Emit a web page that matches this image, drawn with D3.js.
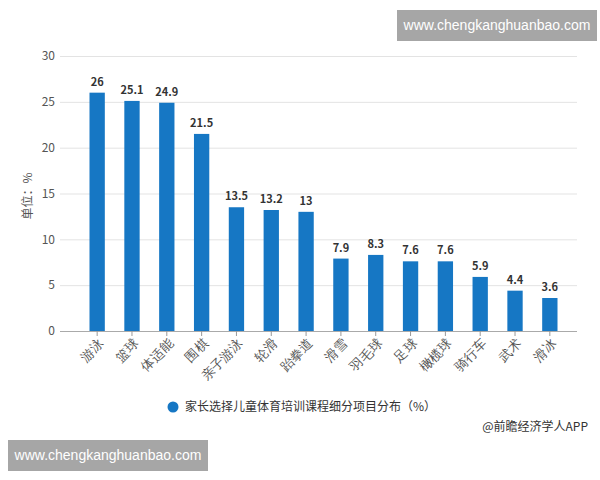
<!doctype html>
<html lang="zh">
<head>
<meta charset="utf-8">
<script src="https://cdn.jsdelivr.net/npm/d3@7"></script>
<style>
  body { margin: 0; background: #fff; }
  svg { font-family: "Microsoft YaHei", "Noto Sans CJK SC", sans-serif; }
  .grid line { stroke: #e3e3e3; }
  .tick-label { fill: #555; font-size: 12px; }
  .value-label { fill: #333; font-size: 11px; font-weight: bold; }
</style>
</head>
<body>
<div id="chart"></div>
<script>
    var categories = ["游泳", "篮球", "体适能", "围棋", "亲子游泳", "轮滑", "跆拳道",
                      "滑雪", "羽毛球", "足球", "橄榄球", "骑行车", "武术", "滑冰"];
    var values = [26, 25.1, 24.9, 21.5, 13.5, 13.2, 13, 7.9, 8.3, 7.6, 7.6, 5.9, 4.4, 3.6];
    var yTicks = [0, 5, 10, 15, 20, 25, 30];
    var seriesName = "家长选择儿童体育培训课程细分项目分布（%）";

    var width = 600, height = 480;
    var mLeft = 70, mRight = 577, mTop = 56, mBottom = 331;
    var gridLeft = 60;
    var barColor = "#1677c4";

    var svg = d3.select("#chart").append("svg")
        .attr("width", width)
        .attr("height", height);

    var x = d3.scaleBand().domain(categories).range([mLeft, mRight]).padding(0.56);
    var y = d3.scaleLinear().domain([0, 30]).range([mBottom, mTop]);

    // grid lines
    svg.append("g").attr("class", "grid")
        .selectAll("line").data(yTicks.filter(function (d) { return d > 0; }))
        .enter().append("line")
        .attr("x1", gridLeft).attr("x2", mRight)
        .attr("y1", function (d) { return y(d) + 0.5; })
        .attr("y2", function (d) { return y(d) + 0.5; });

    // y labels
    svg.append("g").selectAll("text").data(yTicks)
        .enter().append("text")
        .attr("class", "tick-label")
        .attr("x", 55)
        .attr("y", function (d) { return y(d); })
        .attr("dy", "0.35em")
        .attr("text-anchor", "end")
        .text(function (d) { return d; });

    // y title
    svg.append("text")
        .attr("class", "tick-label")
        .attr("transform", "translate(28,196) rotate(-90)")
        .attr("text-anchor", "middle")
        .attr("dy", "0.35em")
        .text("单位：%");

    // bars
    svg.append("g").selectAll("rect").data(values)
        .enter().append("rect")
        .attr("x", function (d, i) { return x(categories[i]); })
        .attr("width", x.bandwidth())
        .attr("y", function (d) { return y(d); })
        .attr("height", function (d) { return mBottom - y(d); })
        .attr("fill", barColor);

    // value labels
    svg.append("g").selectAll("text").data(values)
        .enter().append("text")
        .attr("class", "value-label")
        .attr("x", function (d, i) { return x(categories[i]) + x.bandwidth() / 2; })
        .attr("y", function (d) { return y(d) - 7; })
        .attr("text-anchor", "middle")
        .text(function (d) { return d; });

    // x axis
    var xAxis = svg.append("g")
        .attr("transform", "translate(0," + mBottom + ")")
        .call(d3.axisBottom(x).tickSize(5).tickSizeOuter(0));
    xAxis.select(".domain").attr("stroke", "#aaa").attr("d", "M" + gridLeft + ",0.5H" + mRight);
    xAxis.selectAll(".tick line").attr("stroke", "#999");
    xAxis.selectAll(".tick text")
        .attr("class", "tick-label")
        .attr("font-size", null).attr("font-family", null)
        .attr("transform", "translate(4,10) rotate(-45)")
        .attr("text-anchor", "end")
        .attr("dy", "0.35em")
        .attr("y", 0).attr("x", 0)
        .style("font-size", "13px");

    // legend
    svg.append("circle")
        .attr("cx", 173).attr("cy", 407).attr("r", 5.5)
        .attr("fill", barColor);
    svg.append("text")
        .attr("class", "tick-label")
        .attr("x", 185).attr("y", 407)
        .attr("dy", "0.35em")
        .style("fill", "#333")
        .text(seriesName);

    // source
    svg.append("text")
        .attr("x", 588).attr("y", 427)
        .attr("dy", "0.35em")
        .attr("text-anchor", "end")
        .attr("font-size", 12)
        .attr("fill", "#333")
        .text("@前瞻经济学人APP");

    // watermark boxes
    var marks = [[397, 10], [8, 440]];
    marks.forEach(function (m) {
        svg.append("rect")
            .attr("x", m[0]).attr("y", m[1])
            .attr("width", 200).attr("height", 31)
            .attr("fill", "#a6a6a6");
        svg.append("text")
            .attr("x", m[0] + 100).attr("y", m[1] + 15.5)
            .attr("dy", "0.35em")
            .attr("text-anchor", "middle")
            .attr("font-size", 14)
            .attr("font-family", "Arial, Liberation Sans, sans-serif")
            .attr("fill", "#fff")
            .text("www.chengkanghuanbao.com");
    });
</script>
</body>
</html>
